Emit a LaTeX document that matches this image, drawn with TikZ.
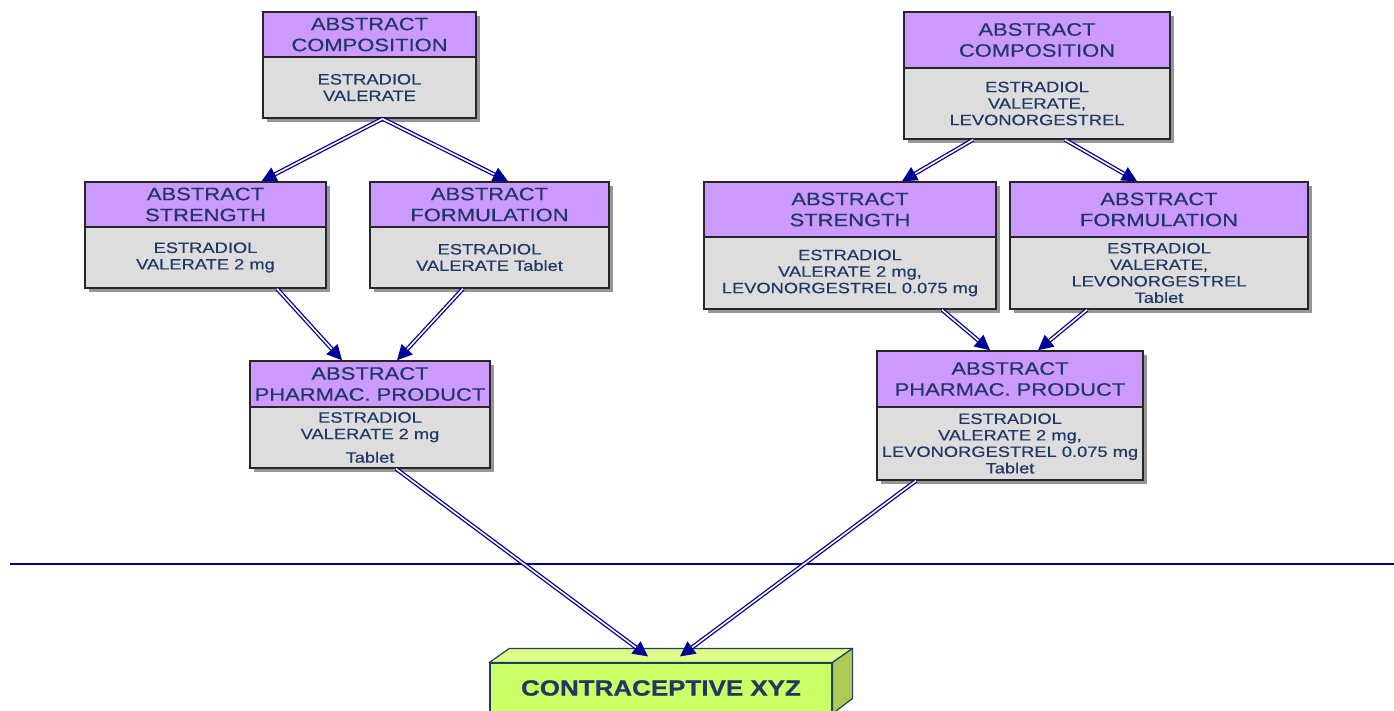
\documentclass[tikz,border=0pt]{standalone}
\usepackage{fontspec}
\usetikzlibrary{arrows.meta,shadows}
\newfontfamily\boxfont[FakeStretch=1.22,FakeBold=0.4]{Liberation Sans}
\newfontfamily\prodfont[FakeStretch=1.18,FakeBold=0.8]{Liberation Sans}
\definecolor{hdr}{RGB}{204,153,255}
\definecolor{bdy}{RGB}{221,221,221}
\definecolor{txt}{RGB}{31,56,100}
\definecolor{arr}{RGB}{0,0,150}
\definecolor{lime}{RGB}{204,255,102}
\definecolor{limetop}{RGB}{221,255,136}
\definecolor{limeside}{RGB}{170,204,85}
\definecolor{prodedge}{RGB}{31,64,96}
\tikzset{
  boxbase/.style={draw=black!85, line width=1.5pt, inner sep=0pt, align=center, text=txt,
    drop shadow={shadow xshift=4pt, shadow yshift=-4pt, opacity=0.55, fill=black!75}},
  hdrbox/.style={boxbase, fill=hdr, font=\boxfont\fontsize{18}{21}\selectfont},
  bdybox/.style={boxbase, fill=bdy, font=\boxfont\fontsize{15}{16.5}\selectfont},
  conn/.style={draw=arr, line width=1.3pt, double=white, double distance=1.6pt,
    -{Triangle[length=15pt,width=15pt]}},
  hline/.style={draw=arr!90!black, line width=1.3pt}
}
\begin{document}
\begin{tikzpicture}[x=1pt,y=-1pt]
\useasboundingbox (0,0) rectangle (1394,711);
% left composition
\node[hdrbox, minimum width=213pt, minimum height=45pt] (lch) at (369.5,34.5) {ABSTRACT\\COMPOSITION};
\node[bdybox, minimum width=213pt, minimum height=61pt] (lcb) at (369.5,87.5) {ESTRADIOL\\VALERATE};
% left strength
\node[hdrbox, minimum width=241pt, minimum height=45pt] (lsh) at (205.5,204.5) {ABSTRACT\\STRENGTH};
\node[bdybox, minimum width=241pt, minimum height=61pt] (lsb) at (205.5,257.5) {ESTRADIOL\\VALERATE 2 mg};
% left formulation
\node[hdrbox, minimum width=239pt, minimum height=45pt] (lfh) at (489.5,204.5) {ABSTRACT\\FORMULATION};
\node[bdybox, minimum width=239pt, minimum height=61pt] (lfb) at (489.5,257.5) {ESTRADIOL\\VALERATE Tablet};
% left pharmac product
\node[hdrbox, minimum width=240pt, minimum height=46pt] (lph) at (370,384) {ABSTRACT\\PHARMAC. PRODUCT};
\node[bdybox, minimum width=240pt, minimum height=61pt] (lpb) at (370,437.5) {ESTRADIOL\\VALERATE 2 mg\\[7pt]Tablet};
% right composition
\node[hdrbox, minimum width=266pt, minimum height=56pt] (rch) at (1037,40) {ABSTRACT\\COMPOSITION};
\node[bdybox, minimum width=266pt, minimum height=71pt] (rcb) at (1037,103.5) {ESTRADIOL\\VALERATE,\\LEVONORGESTREL};
% right strength
\node[hdrbox, minimum width=292pt, minimum height=55pt] (rsh) at (850,209.5) {ABSTRACT\\STRENGTH};
\node[bdybox, minimum width=292pt, minimum height=72pt] (rsb) at (850,273) {ESTRADIOL\\VALERATE 2 mg,\\LEVONORGESTREL 0.075 mg};
% right formulation
\node[hdrbox, minimum width=298pt, minimum height=55pt] (rfh) at (1159,209.5) {ABSTRACT\\FORMULATION};
\node[bdybox, minimum width=298pt, minimum height=72pt] (rfb) at (1159,273) {ESTRADIOL\\VALERATE,\\LEVONORGESTREL\\Tablet};
% right pharmac product
\node[hdrbox, minimum width=266pt, minimum height=56pt] (rph) at (1010,379) {ABSTRACT\\PHARMAC. PRODUCT};
\node[bdybox, minimum width=266pt, minimum height=73pt] (rpb) at (1010,443.5) {ESTRADIOL\\VALERATE 2 mg,\\LEVONORGESTREL 0.075 mg\\Tablet};
% separator line
\draw[hline] (10,564) -- (1394,564);
% product box (3D)
\node[draw=prodedge, line width=1.2pt, fill=lime, minimum width=342pt, minimum height=50pt, inner sep=0pt] (prod) at (661,688) {};
\draw[draw=prodedge, line width=1.2pt, fill=limetop, line join=round]
  (prod.north west) -- ++(20,-14) -- ([xshift=20pt,yshift=14pt]prod.north east) -- (prod.north east) -- cycle;
\draw[draw=prodedge, line width=1.2pt, fill=limeside, line join=round]
  (prod.north east) -- ++(20,-14) -- ++(0,50) -- (prod.south east) -- cycle;
\node[text=txt, font=\prodfont\bfseries\fontsize{22}{24}\selectfont, inner sep=0pt] (prodlabel) at (prod.center) {CONTRACEPTIVE XYZ};
% connectors
\draw[conn] ([xshift=13pt]lcb.south) -- ([xshift=56pt]lsh.north);
\draw[conn] ([xshift=13pt]lcb.south) -- ([xshift=18.5pt]lfh.north);
\draw[conn] ([xshift=71.5pt]lsb.south) -- ([xshift=-28pt]lph.north);
\draw[conn] ([xshift=-26.5pt]lfb.south) -- ([xshift=27pt]lph.north);
\draw[conn] ([xshift=-64pt]rcb.south) -- ([xshift=52pt]rsh.north);
\draw[conn] ([xshift=28pt]rcb.south) -- ([xshift=-22pt]rfh.north);
\draw[conn] ([xshift=92pt]rsb.south) -- ([xshift=-20pt]rph.north);
\draw[conn] ([xshift=-72pt]rfb.south) -- ([xshift=28pt]rph.north);
\draw[conn] ([xshift=26pt]lpb.south) -- ([xshift=-13pt,yshift=6pt]prod.north);
\draw[conn] ([xshift=-94pt]rpb.south) -- ([xshift=19pt,yshift=6pt]prod.north);
\end{tikzpicture}
\end{document}
